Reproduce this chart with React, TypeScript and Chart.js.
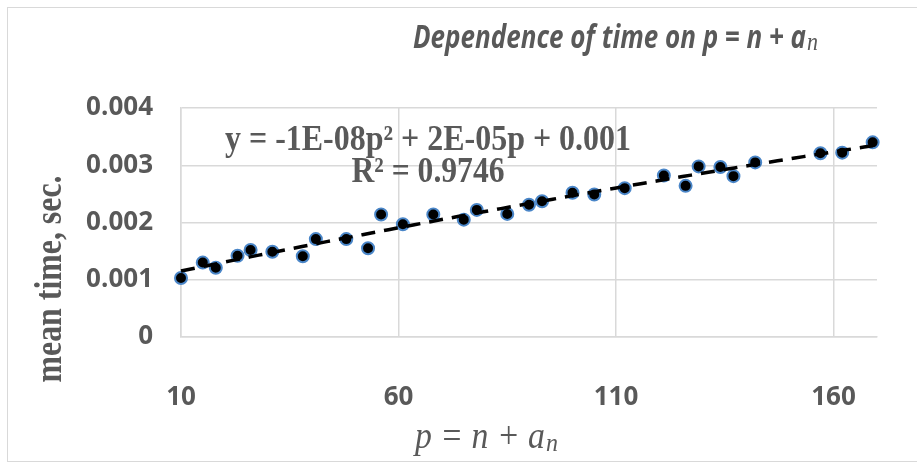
import React, { useEffect, useRef } from 'react';
import { Chart, registerables } from 'chart.js';

Chart.register(...registerables);

// ---- data ----
const pValues = [10, 15, 18, 23, 26, 31, 38, 41, 48, 53, 56, 61, 68, 75, 78, 85, 90, 93, 100, 105, 112, 121, 126, 129, 134, 137, 142, 157, 162, 169];
const meanTimes = [0.00103, 0.0013, 0.00121, 0.00142, 0.00152, 0.00149, 0.00141, 0.00171, 0.00171, 0.00155, 0.00214, 0.00197, 0.00214, 0.00205, 0.00222, 0.00215, 0.00231, 0.00237, 0.00252, 0.00249, 0.0026, 0.00282, 0.00264, 0.00298, 0.00297, 0.00281, 0.00305, 0.00321, 0.00322, 0.0034];
const xTickValues = [10, 60, 110, 160];
const xTickLabels = ['10', '60', '110', '160'];
const yTickValues = [0, 0.001, 0.002, 0.003, 0.004];
const yTickLabels = ['0', '0.001', '0.002', '0.003', '0.004'];

const titleMain = 'Dependence of time on p = n + a';
const titleSub = 'n';
const xTitleMain = 'p = n + a';
const xTitleSub = 'n';
const yTitle = 'mean time, sec.';
const equationLine = 'y = -1E-08p\u00B2 + 2E-05p + 0.001';
const r2Line = 'R\u00B2 = 0.9746';

const TEXT = '#595959';
const GRID = '#d9d9d9';

// quadratic least-squares trendline (polynomial order 2), like the spreadsheet's
function quadFit(xs: number[], ys: number[]) {
  let s0 = 0, s1 = 0, s2 = 0, s3 = 0, s4 = 0, t0 = 0, t1 = 0, t2 = 0;
  for (let i = 0; i < xs.length; i++) {
    const x = xs[i], y = ys[i];
    s0 += 1; s1 += x; s2 += x * x; s3 += x * x * x; s4 += x * x * x * x;
    t0 += y; t1 += x * y; t2 += x * x * y;
  }
  const det3 = (m: number[][]) =>
    m[0][0] * (m[1][1] * m[2][2] - m[1][2] * m[2][1]) -
    m[0][1] * (m[1][0] * m[2][2] - m[1][2] * m[2][0]) +
    m[0][2] * (m[1][0] * m[2][1] - m[1][1] * m[2][0]);
  const A = [[s0, s1, s2], [s1, s2, s3], [s2, s3, s4]];
  const b = [t0, t1, t2];
  const D = det3(A);
  const coef = [0, 1, 2].map((k) => {
    const M = A.map((row, r) => row.map((v, c) => (c === k ? b[r] : v)));
    return det3(M) / D;
  });
  return coef; // c0 + c1 x + c2 x^2
}

function drawFitted(ctx: CanvasRenderingContext2D, text: string, x: number, y: number, font: string, targetW: number, align: 'left' | 'center') {
  ctx.save();
  ctx.font = font;
  const w = ctx.measureText(text).width;
  const sx = targetW / w;
  ctx.translate(x, y);
  ctx.scale(sx, 1);
  ctx.textAlign = align;
  ctx.textBaseline = 'alphabetic';
  ctx.fillText(text, 0, 0);
  ctx.restore();
  return w * sx;
}

const textPlugin = {
  id: 'textPlugin',
  afterDraw(chart: any) {
    const ctx: CanvasRenderingContext2D = chart.ctx;
    ctx.save();
    ctx.fillStyle = TEXT;
    // title
    const tw = drawFitted(ctx, titleMain, 413, 48, 'italic bold 32px "Open Sans"', 393, 'left');
    drawFitted(ctx, titleSub, 413 + tw + 1, 50, 'italic 25px "Liberation Serif"', 11, 'left');
    // equation + R²
    drawFitted(ctx, equationLine, 428, 150, 'bold 35px "Liberation Serif"', 406, 'center');
    drawFitted(ctx, r2Line, 428, 182, 'bold 35px "Liberation Serif"', 153, 'center');
    // x-axis title
    const xw = drawFitted(ctx, xTitleMain, 415, 448, 'italic 37px "Liberation Serif"', 130, 'left');
    drawFitted(ctx, xTitleSub, 415 + xw + 1, 451, 'italic 25px "Liberation Serif"', 12, 'left');
    // y-axis title
    ctx.save();
    ctx.translate(61, 279);
    ctx.rotate(-Math.PI / 2);
    drawFitted(ctx, yTitle, 0, 0, 'bold 37px "Liberation Serif"', 207, 'center');
    ctx.restore();
    ctx.restore();
  },
};

export default function App() {
  const ref = useRef<HTMLCanvasElement>(null);

  useEffect(() => {
    if (!ref.current) return;
    const [c0, c1, c2] = quadFit(pValues, meanTimes);
    const pMin = Math.min(...pValues);
    const pMax = Math.max(...pValues);
    const trend: { x: number; y: number }[] = [];
    const steps = 80;
    for (let i = 0; i <= steps; i++) {
      const x = pMin + ((pMax - pMin) * i) / steps;
      trend.push({ x, y: c0 + c1 * x + c2 * x * x });
    }

    const tickFont = { family: '"Open Sans", sans-serif', size: 26, weight: 'bold' as const };

    const chart = new Chart(ref.current, {
      type: 'scatter',
      data: {
        datasets: [
          {
            label: 'trend',
            data: trend,
            showLine: true,
            borderColor: '#000000',
            borderWidth: 3.5,
            borderDash: [14, 9],
            pointRadius: 0,
            fill: false,
            order: 0,
            clip: false as any,
          },
          {
            label: 'mean time',
            data: pValues.map((p, i) => ({ x: p, y: meanTimes[i] })),
            backgroundColor: '#000000',
            borderColor: '#4a86c8',
            borderWidth: 2,
            pointRadius: 6,
            order: 1,
            clip: false as any,
          },
        ],
      },
      options: {
        responsive: false,
        animation: false,
        layout: { padding: { left: 0, top: 108, right: 40, bottom: 0 } },
        plugins: {
          legend: { display: false },
          tooltip: { enabled: false },
          title: { display: false },
        },
        scales: {
          x: {
            type: 'linear',
            min: 10,
            max: 170,
            afterBuildTicks: (s: any) => {
              s.ticks = xTickValues.map((v) => ({ value: v }));
            },
            afterFit: (s: any) => {
              s.height = 126;
            },
            grid: { color: GRID, lineWidth: 1.5, drawTicks: false },
            border: { color: GRID, width: 1.5 },
            ticks: {
              padding: 45,
              color: TEXT,
              font: tickFont,
              maxRotation: 0,
              autoSkip: false,
              callback: (_v: any, i: number) => xTickLabels[i],
            },
          },
          y: {
            type: 'linear',
            min: 0,
            max: 0.004,
            afterBuildTicks: (s: any) => {
              s.ticks = yTickValues.map((v) => ({ value: v }));
            },
            afterFit: (s: any) => {
              s.width = 181;
            },
            grid: { color: GRID, lineWidth: 1.5, drawTicks: false },
            border: { color: GRID, width: 1.5 },
            ticks: {
              padding: 28,
              color: TEXT,
              font: tickFont,
              autoSkip: false,
              callback: (_v: any, i: number) => yTickLabels[i],
            },
          },
        },
      },
      plugins: [textPlugin],
    });
    return () => chart.destroy();
  }, []);

  return (
    <div style={{ position: 'fixed', left: 0, top: 0, width: 917, height: 463, overflow: 'hidden', background: '#ffffff' }}>
      <div style={{ position: 'absolute', left: 7, top: 7, width: 940, height: 455, border: '1px solid #d9d9d9', boxSizing: 'border-box' }} />
      <canvas ref={ref} width={917} height={463} style={{ position: 'absolute', left: 0, top: 0 }} />
    </div>
  );
}
